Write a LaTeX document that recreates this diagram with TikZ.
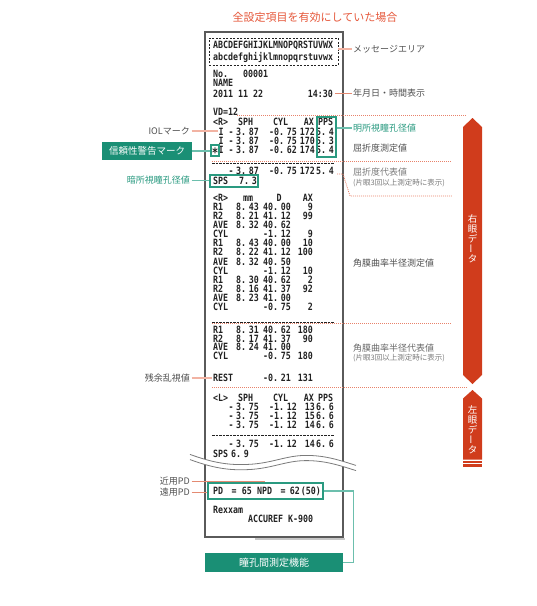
\documentclass[tikz,border=0pt]{standalone}
\usepackage{fontspec}
\newfontfamily\jp{Noto Sans CJK JP}
\newfontfamily\rcf[FakeStretch=0.83, WordSpace={0.2,0,0}]{DejaVu Sans Mono Bold}
\definecolor{tealF}{HTML}{1A8F75}
\definecolor{tealL}{HTML}{2A9A80}
\definecolor{tealC}{HTML}{6CBFAD}
\definecolor{redT}{HTML}{E5573A}
\definecolor{barR}{HTML}{D03C1C}
\definecolor{dotR}{HTML}{E8826A}
\definecolor{pinkC}{HTML}{F2B3A3}
\definecolor{salC}{HTML}{E48A72}
\definecolor{txtG}{HTML}{505050}
\definecolor{txtL}{HTML}{7A7A7A}
\definecolor{ink}{HTML}{222222}
\definecolor{paperC}{HTML}{5A5A5A}
\begin{document}
\begin{tikzpicture}[x=1pt,y=-1pt,
  rc/.style={font=\rcf\fontsize{10}{10}\selectfont, text=ink, inner sep=0pt, text height=7.3pt, text depth=0pt},
  rw/.style={rc, anchor=west},
  re/.style={rc, anchor=east},
  ann/.style={font=\jp\fontsize{9}{9}\selectfont, text=txtG, inner sep=1.5pt},
  annsmall/.style={font=\jp\fontsize{7.5}{7.5}\selectfont, text=txtL, inner sep=1.5pt},
  tbox/.style={draw=tealL, line width=1.2pt, inner sep=0pt},
  tfill/.style={fill=tealF, text=white, inner sep=0pt},
  sepline/.style={ink, line width=1pt, dash pattern=on 2.5pt off 1pt},
  rdot/.style={dotR, line width=0.8pt, dash pattern=on 1pt off 1pt},
  vtext/.style={font=\jp\fontsize{9.5}{9.7}\selectfont, text=white, align=center, inner sep=0pt},
  tcon/.style={tealC, line width=1.2pt},
  pcon/.style={pinkC, line width=1.2pt},
  scon/.style={salC, line width=0.8pt}]
\useasboundingbox (0,0) rectangle (537,606);

% title
\node[font=\jp\fontsize{11}{11}\selectfont, text=redT, inner sep=0pt] (title) at (315,17) {全設定項目を有効にしていた場合};

% paper
\draw[black!22, line width=1.5pt] (255,538.8) -- (344.5,538.8);
\node[draw=paperC, line width=1.2pt, fill=white, minimum width=138, minimum height=505, inner sep=0pt] (paper) at (274,284.5) {};

% red dotted bracket lines
\draw[rdot] (237,115) -- (467,115);
\draw[rdot] (212,161.5) -- (452,161.5);
\draw[rdot] (337,174) -- (343,174) -- (350,196) -- (452,196);
\draw[rdot] (212,323) -- (452,323);
\draw[rdot] (212,387) -- (468,387);

% black dashed separators
\draw[sepline] (212,163.5) -- (334,163.5);
\draw[sepline] (212,322.5) -- (334,322.5);
\draw[sepline] (212,435) -- (334,435);

% message box
\node[draw=ink, line width=0.8pt, dash pattern=on 2pt off 1.5pt, minimum width=129, minimum height=27, inner sep=0pt] (msgbox) at (273.5,51.5) {};
\node[rw] (abc) at (213,45) {ABCDEFGHIJKLMNOPQRSTUVWX};
\node[rw] (abcl) at (213,57) {abcdefghijklmnopqrstuvwx};
\node[rw] (no) at (213,73.5) {No.};
\node[rw] (num) at (243,73.5) {00001};
\node[rw] (name) at (213,82.5) {NAME};
\node[rw] (date) at (213,94) {2011\hspace{5pt}11\hspace{5pt}22};
\node[re] (time) at (333,94) {14:30};
\node[rw] (vd) at (213,112) {VD=12};

% refraction right eye
\node[rw] (rh1) at (213,122) {<R>};
\node[rw] (rh2) at (238,122) {SPH};
\node[rw] (rh3) at (273,122) {CYL};
\node[re] (rh4) at (314,122) {AX};
\node[rw] (rh5) at (318,122) {PPS};

\node[rc] (r1i) at (221,132) {I};
\node[rc] (r1m) at (231,132) {-};
\node[re] (r1s) at (259,132) {3. 87};
\node[re] (r1c) at (297,132) {-0. 75};
\node[re] (r1a) at (315,132) {172};
\node[re] (r1p) at (334,132) {5. 4};

\node[rc] (r2i) at (221,141) {I};
\node[rc] (r2m) at (231,141) {-};
\node[re] (r2s) at (259,141) {3. 87};
\node[re] (r2c) at (297,141) {-0. 75};
\node[re] (r2a) at (315,141) {170};
\node[re] (r2p) at (334,141) {5. 3};

\node[rc, font=\rcf\fontsize{13}{13}\selectfont, text height=7pt] (r3star) at (215,153.5) {*};
\node[rc] (r3i) at (221,150) {I};
\node[rc] (r3m) at (231,150) {-};
\node[re] (r3s) at (259,150) {3. 87};
\node[re] (r3c) at (297,150) {-0. 62};
\node[re] (r3a) at (315,150) {174};
\node[re] (r3p) at (334,150) {5. 4};

\node[rc] (rrm) at (231,171) {-};
\node[re] (rrs) at (259,171) {3. 87};
\node[re] (rrc) at (297,171) {-0. 75};
\node[re] (rra) at (315,171) {172};
\node[re] (rrp) at (334,171) {5. 4};

\node[rw] (sps) at (213,180.5) {SPS};
\node[re] (spsv) at (257,180.5) {7. 3};

% teal outline boxes
\node[tbox, minimum width=19, minimum height=40] (ppsbox) at (326.5,137) {};
\node[tbox, minimum width=8, minimum height=11] (starbox) at (215,150.5) {};
\node[tbox, minimum width=48, minimum height=12] (spsbox) at (234,181) {};

% keratometry
\node[rw] (kh1) at (213,198) {<R>};
\node[rc] (kh2) at (248,198) {mm};
\node[rc] (kh3) at (279,198) {D};
\node[re] (kh4) at (313,198) {AX};

\node[rw] (k1l) at (213,207) {R1};  \node[re] (k1a) at (259,207) {8. 43}; \node[re] (k1b) at (291,207) {40. 00}; \node[re] (k1c) at (313,207) {9};
\node[rw] (k2l) at (213,216) {R2};  \node[re] (k2a) at (259,216) {8. 21}; \node[re] (k2b) at (291,216) {41. 12}; \node[re] (k2c) at (313,216) {99};
\node[rw] (k3l) at (213,225) {AVE}; \node[re] (k3a) at (259,225) {8. 32}; \node[re] (k3b) at (291,225) {40. 62};
\node[rw] (k4l) at (213,234) {CYL}; \node[re] (k4b) at (291,234) {-1. 12}; \node[re] (k4c) at (313,234) {9};
\node[rw] (k5l) at (213,243) {R1};  \node[re] (k5a) at (259,243) {8. 43}; \node[re] (k5b) at (291,243) {40. 00}; \node[re] (k5c) at (313,243) {10};
\node[rw] (k6l) at (213,252) {R2};  \node[re] (k6a) at (259,252) {8. 22}; \node[re] (k6b) at (291,252) {41. 12}; \node[re] (k6c) at (313,252) {100};
\node[rw] (k7l) at (213,262) {AVE}; \node[re] (k7a) at (259,262) {8. 32}; \node[re] (k7b) at (291,262) {40. 50};
\node[rw] (k8l) at (213,271) {CYL}; \node[re] (k8b) at (291,271) {-1. 12}; \node[re] (k8c) at (313,271) {10};
\node[rw] (k9l) at (213,280) {R1};  \node[re] (k9a) at (259,280) {8. 30}; \node[re] (k9b) at (291,280) {40. 62}; \node[re] (k9c) at (313,280) {2};
\node[rw] (k10l) at (213,289) {R2};  \node[re] (k10a) at (259,289) {8. 16}; \node[re] (k10b) at (291,289) {41. 37}; \node[re] (k10c) at (313,289) {92};
\node[rw] (k11l) at (213,298) {AVE}; \node[re] (k11a) at (259,298) {8. 23}; \node[re] (k11b) at (291,298) {41. 00};
\node[rw] (k12l) at (213,307) {CYL}; \node[re] (k12b) at (291,307) {-0. 75}; \node[re] (k12c) at (313,307) {2};

\node[rw] (m1l) at (213,330) {R1};  \node[re] (m1a) at (259,330) {8. 31}; \node[re] (m1b) at (291,330) {40. 62}; \node[re] (m1c) at (313,330) {180};
\node[rw] (m2l) at (213,338.5) {R2};  \node[re] (m2a) at (259,338.5) {8. 17}; \node[re] (m2b) at (291,338.5) {41. 37}; \node[re] (m2c) at (313,338.5) {90};
\node[rw] (m3l) at (213,347) {AVE}; \node[re] (m3a) at (259,347) {8. 24}; \node[re] (m3b) at (291,347) {41. 00};
\node[rw] (m4l) at (213,355.5) {CYL}; \node[re] (m4b) at (291,355.5) {-0. 75}; \node[re] (m4c) at (313,355.5) {180};

\node[rw] (rest) at (213,378) {REST}; \node[re] (restb) at (291,378) {-0. 21}; \node[re] (restc) at (313,378) {131};

% left eye refraction
\node[rw] (lh1) at (213,398) {<L>};
\node[rw] (lh2) at (238,398) {SPH};
\node[rw] (lh3) at (273,398) {CYL};
\node[re] (lh4) at (314,398) {AX};
\node[rw] (lh5) at (318,398) {PPS};

\node[rc] (l1m) at (231,407) {-}; \node[re] (l1s) at (259,407) {3. 75}; \node[re] (l1c) at (297,407) {-1. 12}; \node[re] (l1a) at (315,407) {13}; \node[re] (l1p) at (334,407) {6. 6};
\node[rc] (l2m) at (231,416) {-}; \node[re] (l2s) at (259,416) {3. 75}; \node[re] (l2c) at (297,416) {-1. 12}; \node[re] (l2a) at (315,416) {15}; \node[re] (l2p) at (334,416) {6. 6};
\node[rc] (l3m) at (231,425) {-}; \node[re] (l3s) at (259,425) {3. 75}; \node[re] (l3c) at (297,425) {-1. 12}; \node[re] (l3a) at (315,425) {14}; \node[re] (l3p) at (334,425) {6. 6};

\node[rc] (lrm) at (231,444) {-}; \node[re] (lrs) at (259,444) {3. 75}; \node[re] (lrc) at (297,444) {-1. 12}; \node[re] (lra) at (315,444) {14}; \node[re] (lrp) at (334,444) {6. 6};
\node[rw] (lsps) at (213,454) {SPS}; \node[re] (lspsv) at (249,454) {6. 9};

% wave break
\def\wavepath{(190,457) .. controls (212,465) and (228,468) .. (248,467) .. controls (272,466) and (286,458) .. (306,458) .. controls (326,458) and (340,463) .. (356,468)}
\draw[white, line width=5pt] \wavepath;
\draw[paperC!80, line width=0.8pt, yshift=2.6pt] \wavepath;
\draw[paperC!80, line width=0.8pt, yshift=-2.6pt] \wavepath;

% PD row
\node[rw] (pd) at (213,491) {PD};
\node[rc] (pdeq) at (234,491) {=};
\node[re] (pdv) at (252,491) {65};
\node[rw] (npd) at (257,491) {NPD};
\node[rc] (npdeq) at (283,491) {=};
\node[re] (npdv) at (321,491) {62 (50)};
\node[tbox, minimum width=115, minimum height=16] (pdbox) at (265.5,491) {};

\node[rw] (maker) at (213,510) {Rexxam};
\node[rw] (model) at (248,519) {ACCUREF\hspace{5pt}K-900};

% right-side annotations
\node[ann, anchor=west] (amsg) at (351.5,49) {メッセージエリア};
\node[ann, anchor=west] (adate) at (351.5,93) {年月日・時間表示};
\node[ann, anchor=west, text=tealL] (apps) at (351.5,128) {明所視瞳孔径値};
\node[ann, anchor=west] (aref) at (351.5,148) {屈折度測定値};
\node[ann, anchor=west, text=txtL] (arep) at (351.5,172) {屈折度代表値};
\node[annsmall, anchor=west] (arepn) at (351.5,183) {(片眼3回以上測定時に表示)};
\node[ann, anchor=west] (aker) at (351.5,263) {角膜曲率半径測定値};
\node[ann, anchor=west, text=txtL!85!black] (akrep) at (351.5,348) {角膜曲率半径代表値};
\node[annsmall, anchor=west] (akrepn) at (351.5,358.5) {(片眼3回以上測定時に表示)};

% left-side annotations
\node[ann, anchor=east] (aiol) at (191.5,131) {IOLマーク};
\node[tfill, font=\jp\fontsize{9.5}{9.5}\selectfont, minimum width=90, minimum height=18] (arel) at (147,151) {信頼性警告マーク};
\node[ann, anchor=east, text=tealL] (asps) at (191.5,180.5) {暗所視瞳孔径値};
\node[ann, anchor=east] (arest) at (191.5,378) {残余乱視値};
\node[ann, anchor=east] (anpd) at (191.5,481) {近用PD};
\node[ann, anchor=east] (afpd) at (191.5,492.5) {遠用PD};
\node[tfill, font=\jp\fontsize{10}{10}\selectfont, minimum width=138, minimum height=19] (apdf) at (274,562.5) {瞳孔間測定機能};

% connectors
\draw[pcon] (msgbox.east |- amsg.west) -- (amsg.west);
\draw[scon] ([xshift=2pt]time.east |- adate.west) -- (adate.west);
\draw[tcon] (ppsbox.east |- apps.west) -- (apps.west);
\draw[pcon] (aiol.east) -- (aiol.east -| r1i.west);
\draw[tcon] (arel.east) -- (arel.east -| starbox.west);
\draw[tcon] (asps.east) -- (asps.east -| spsbox.west);
\draw[pcon] (arest.east) -- ([xshift=-1pt]arest.east -| rest.west);
\draw[scon] (anpd.east) -- (anpd.east -| npd.center) -- (npd.center |- pdbox.north);
\draw[scon] (afpd.east) -- (afpd.east -| pdbox.west);
\draw[tcon] (pdbox.east) -- ++(30,0) |- (apdf.east);

% eye data bars
\fill[barR] (472.5,118) -- (482,127) -- (482,375) -- (472.5,384) -- (463,375) -- (463,127) -- cycle;
\node[vtext] (reye) at (472.5,239) {右\\眼\\デ\\\rotatebox{90}{ー}\\タ};
\fill[barR] (472.5,390) -- (482,398.5) -- (482,459.5) -- (463,459.5) -- (463,398.5) -- cycle;
\fill[barR] (463,461) rectangle (482,462.8);
\fill[barR] (463,464.2) rectangle (482,466.5);
\node[vtext] (leye) at (472.5,430) {左\\眼\\デ\\\rotatebox{90}{ー}\\タ};
\end{tikzpicture}
\end{document}
